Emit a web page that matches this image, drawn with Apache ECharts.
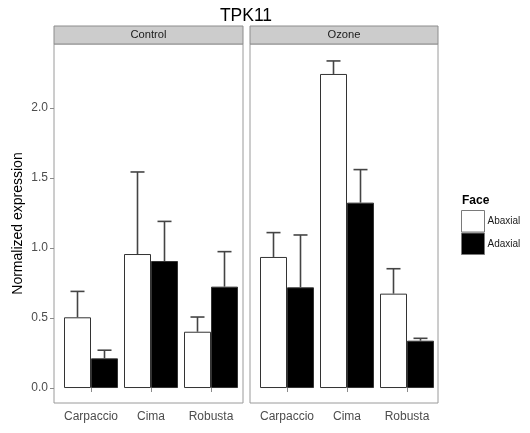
<!DOCTYPE html>
<html>
<head>
<meta charset="utf-8">
<script src="https://cdn.jsdelivr.net/npm/echarts@6/dist/echarts.min.js"></script>
<style>
html,body{margin:0;padding:0;background:#fff;}
#chart{width:530px;height:433px;}
</style>
</head>
<body>
<div id="chart"></div>
<script>
const categories = ['Carpaccio', 'Cima', 'Robusta'];
const panels = ['Control', 'Ozone'];
const faces = ['Abaxial', 'Adaxial'];
const yTicks = [0, 0.5, 1, 1.5, 2];

const controlAbaxial = [0.505, 0.957, 0.402];
const controlAbaxialErr = [0.185, 0.586, 0.105];
const controlAdaxial = [0.212, 0.907, 0.724];
const controlAdaxialErr = [0.058, 0.283, 0.250];

const ozoneAbaxial = [0.936, 2.243, 0.674];
const ozoneAbaxialErr = [0.174, 0.093, 0.178];
const ozoneAdaxial = [0.719, 1.324, 0.338];
const ozoneAdaxialErr = [0.374, 0.236, 0.017];

const FONT = '"Liberation Sans", Arial, sans-serif';
const Y_MIN = -0.107, Y_MAX = 2.457;
const PANEL_TOP = 44, PANEL_H = 359;
const outer = [{left: 54, width: 189}, {left: 250, width: 188}];
const BAR_W = 27;

const chart = echarts.init(document.getElementById('chart'), null, {renderer: 'canvas'});

const grids = [], xAxes = [], yAxes = [], series = [];

// outer grids: panel borders
outer.forEach((o, i) => {
  grids.push({left: o.left, top: PANEL_TOP, width: o.width, height: PANEL_H, show: true,
    borderColor: '#9a9a9a', borderWidth: 1, backgroundColor: '#fff', containLabel: false});
  xAxes.push({gridIndex: i, type: 'value', show: false, min: 0, max: 1});
  yAxes.push({gridIndex: i, type: 'value', show: false, min: 0, max: 1});
});

// inner grids: data
outer.forEach((o, i) => {
  const gi = i + 2;
  grids.push({left: o.left + 7, top: PANEL_TOP, width: 180, height: PANEL_H, show: false});
  xAxes.push({
    gridIndex: gi, type: 'category', data: categories,
    axisLine: {show: false},
    axisTick: {show: true, alignWithLabel: true, length: 4, lineStyle: {color: '#8a8a8a', width: 1}},
    axisLabel: {color: '#4d4d4d', fontSize: 12, fontFamily: FONT, margin: 8, interval: 0, hideOverlap: false},
    splitLine: {show: false}
  });
  yAxes.push({
    gridIndex: gi, type: 'value', min: Y_MIN, max: Y_MAX,
    show: i === 0,
    offset: 7,
    name: i === 0 ? 'Normalized expression' : '',
    nameLocation: 'middle', nameGap: 29,
    nameTextStyle: {color: '#000', fontSize: 14, fontFamily: FONT},
    axisLine: {show: false},
    axisTick: {show: true, length: 4, customValues: yTicks, lineStyle: {color: '#8a8a8a', width: 1}},
    axisLabel: {show: true, customValues: yTicks, color: '#4d4d4d', fontSize: 12, fontFamily: FONT, margin: 6,
      formatter: v => Number(v).toFixed(1)},
    splitLine: {show: false}
  });
});

const panelData = [
  [[controlAbaxial, controlAbaxialErr], [controlAdaxial, controlAdaxialErr]],
  [[ozoneAbaxial, ozoneAbaxialErr], [ozoneAdaxial, ozoneAdaxialErr]]
];
const fills = ['#ffffff', '#000000'];

panelData.forEach((pd, p) => {
  const ai = p + 2;
  pd.forEach((fd, f) => {
    series.push({
      type: 'bar', name: faces[f], xAxisIndex: ai, yAxisIndex: ai,
      data: fd[0], barWidth: BAR_W, barGap: '0%',
      itemStyle: {color: fills[f], borderColor: '#333', borderWidth: 1},
      silent: true, z: 2
    });
  });
  pd.forEach((fd, f) => {
    const offset = f === 0 ? -BAR_W / 2 : BAR_W / 2;
    series.push({
      type: 'custom', xAxisIndex: ai, yAxisIndex: ai,
      data: fd[0].map((m, i) => [i, m, m + fd[1][i]]),
      encode: {x: 0, y: [1, 2]},
      silent: true, z: 3, clip: false,
      renderItem: (params, api) => {
        const base = api.coord([api.value(0), api.value(1)]);
        const top = api.coord([api.value(0), api.value(2)]);
        const x = base[0] + offset;
        const st = {stroke: '#444', lineWidth: 1.6};
        return {type: 'group', children: [
          {type: 'line', shape: {x1: x, y1: base[1], x2: x, y2: top[1]}, style: st},
          {type: 'line', shape: {x1: x - 7, y1: top[1], x2: x + 7, y2: top[1]}, style: st}
        ]};
      }
    });
  });
});

const graphics = [
  {type: 'text', x: 246, y: 16, style: {text: 'TPK11', fontSize: 17.5, fontFamily: FONT, fill: '#000',
    textAlign: 'center', textVerticalAlign: 'middle'}},
  {type: 'text', x: 462, y: 201, style: {text: 'Face', fontSize: 12, fontWeight: 'bold', fontFamily: FONT, fill: '#000',
    textAlign: 'left', textVerticalAlign: 'middle'}}
];
outer.forEach((o, i) => {
  graphics.push({type: 'rect', shape: {x: o.left, y: 26, width: o.width, height: 18},
    style: {fill: '#cccccc', stroke: '#8c8c8c', lineWidth: 1}, z: 10});
  graphics.push({type: 'text', x: o.left + o.width / 2, y: 35, z: 11,
    style: {text: panels[i], fontSize: 11.2, fontFamily: FONT, fill: '#1a1a1a', textAlign: 'center', textVerticalAlign: 'middle'}});
});

chart.setOption({
  animation: false,
  backgroundColor: '#fff',
  grid: grids,
  xAxis: xAxes,
  yAxis: yAxes,
  series: series,
  legend: {
    data: faces, orient: 'vertical', left: 461, top: 210, padding: 0,
    itemWidth: 23, itemHeight: 21.5, itemGap: 0, icon: 'rect',
    itemStyle: {borderColor: '#7a7a7a', borderWidth: 1},
    textStyle: {fontSize: 10, fontFamily: FONT, color: '#1a1a1a', padding: [0, 0, 0, -2]},
    selectedMode: false
  },
  graphic: graphics
});
</script>
</body>
</html>
